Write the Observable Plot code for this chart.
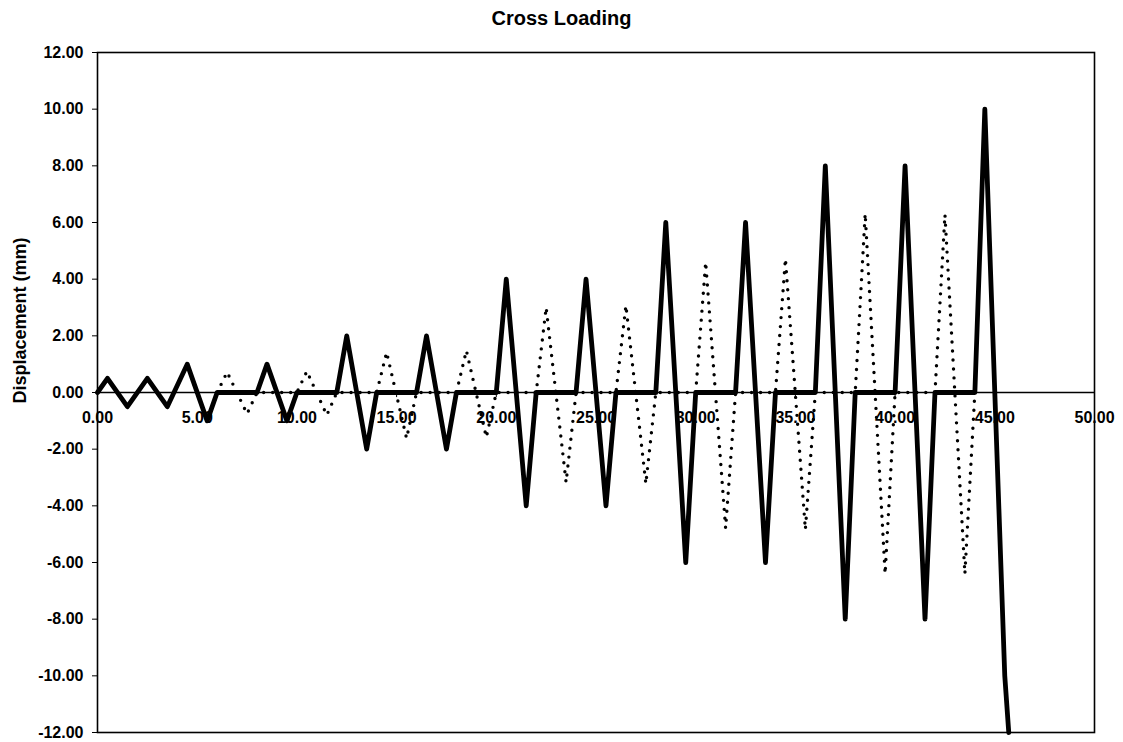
<!DOCTYPE html>
<html><head><meta charset="utf-8">
<script src="https://cdn.jsdelivr.net/npm/d3@7"></script>
<script src="https://cdn.jsdelivr.net/npm/@observablehq/plot@0.6"></script>
<style>
body{margin:0;background:#fff;font-family:"Liberation Sans",Arial,sans-serif;}
#title{width:1123px;height:36px;line-height:36px;text-align:center;font-weight:bold;font-size:20px;color:#000;}
</style></head><body>
<div id="title"></div>
<div id="chart"></div>
<script>
const title = "Cross Loading";
const yLabel = "Displacement (mm)";

// solid (thick) series
const solidX = [0, 0.5, 1.5, 2.5, 3.5, 4.5, 5.5, 6, 8, 8.5, 9.5, 10, 12, 12.5, 13.5, 14, 16, 16.5, 17.5, 18,
  20, 20.5, 21.5, 22, 24, 24.5, 25.5, 26, 28, 28.5, 29.5, 30, 32, 32.5, 33.5, 34, 36, 36.5, 37.5, 38,
  40, 40.5, 41.5, 42, 44, 44.5, 45.5, 45.7];
const solidY = [0, 0.5, -0.5, 0.5, -0.5, 1, -1, 0, 0, 1, -1, 0, 0, 2, -2, 0, 0, 2, -2, 0,
  0, 4, -4, 0, 0, 4, -4, 0, 0, 6, -6, 0, 0, 6, -6, 0, 0, 8, -8, 0,
  0, 8, -8, 0, 0, 10, -10, -12];

// dotted series
const dottedX = [6, 6.5, 7.5, 8, 10, 10.5, 11.5, 12, 14, 14.5, 15.5, 16, 18, 18.5, 19.5, 20,
  22, 22.5, 23.5, 24, 26, 26.5, 27.5, 28, 30, 30.5, 31.5, 32, 34, 34.5, 35.5, 36,
  38, 38.5, 39.5, 40, 42, 42.5, 43.5, 44];
const dottedY = [0, 0.72, -0.75, 0, 0, 0.75, -0.8, 0, 0, 1.42, -1.62, 0, 0, 1.48, -1.58, 0,
  0, 3.0, -3.17, 0, 0, 3.07, -3.22, 0, 0, 4.6, -4.79, 0, 0, 4.72, -4.84, 0,
  0, 6.31, -6.4, 0, 0, 6.28, -6.4, 0];

const xTicks = [0, 5, 10, 15, 20, 25, 30, 35, 40, 45, 50];
const yTicks = [-12, -10, -8, -6, -4, -2, 0, 2, 4, 6, 8, 10, 12];
const fmt = d => d.toFixed(2);

document.getElementById("title").textContent = title;

const solid = solidX.map((x, i) => ({x, y: solidY[i]}));
const dotted = dottedX.map((x, i) => ({x, y: dottedY[i]}));

const chart = Plot.plot({
  width: 1123, height: 706,
  marginTop: 16, marginBottom: 10, marginLeft: 97, marginRight: 29,
  style: {fontFamily: "'Liberation Sans', Arial, sans-serif", fontSize: "16px", fontWeight: "bold", color: "#000", background: "#fff"},
  x: {domain: [0, 50], axis: null},
  y: {domain: [-12, 12]},
  marks: [
    Plot.ruleY([0], {stroke: "#000", strokeWidth: 1.3}),
    Plot.ruleX(xTicks, {x: d => d, y1: 0, y2: -0.18, stroke: "#000", strokeWidth: 1}),
    Plot.line(dotted, {x: "x", y: "y", stroke: "#000", strokeWidth: 3.4, strokeDasharray: "0 9", strokeLinecap: "round"}),
    Plot.line(solid, {x: "x", y: "y", stroke: "#000", strokeWidth: 4.8, strokeLinejoin: "round"}),
    Plot.text(xTicks, {x: d => d, y: 0, text: d => fmt(d), dy: 25, fontSize: 16, fontWeight: "bold", fill: "#000"}),
    Plot.axisY({ticks: yTicks, tickFormat: fmt, tickSize: 5, tickPadding: 9, label: null, fontSize: 16, fontWeight: "bold", stroke: "#000", fill: "#000"}),
    Plot.text([yLabel], {frameAnchor: "left", dx: -77, dy: 11, rotate: -90, fontSize: 18, fontWeight: "bold", fill: "#000"}),
    Plot.frame({stroke: "#000", strokeWidth: 1.6})
  ]
});
document.getElementById("chart").appendChild(chart);
</script>
</body></html>
